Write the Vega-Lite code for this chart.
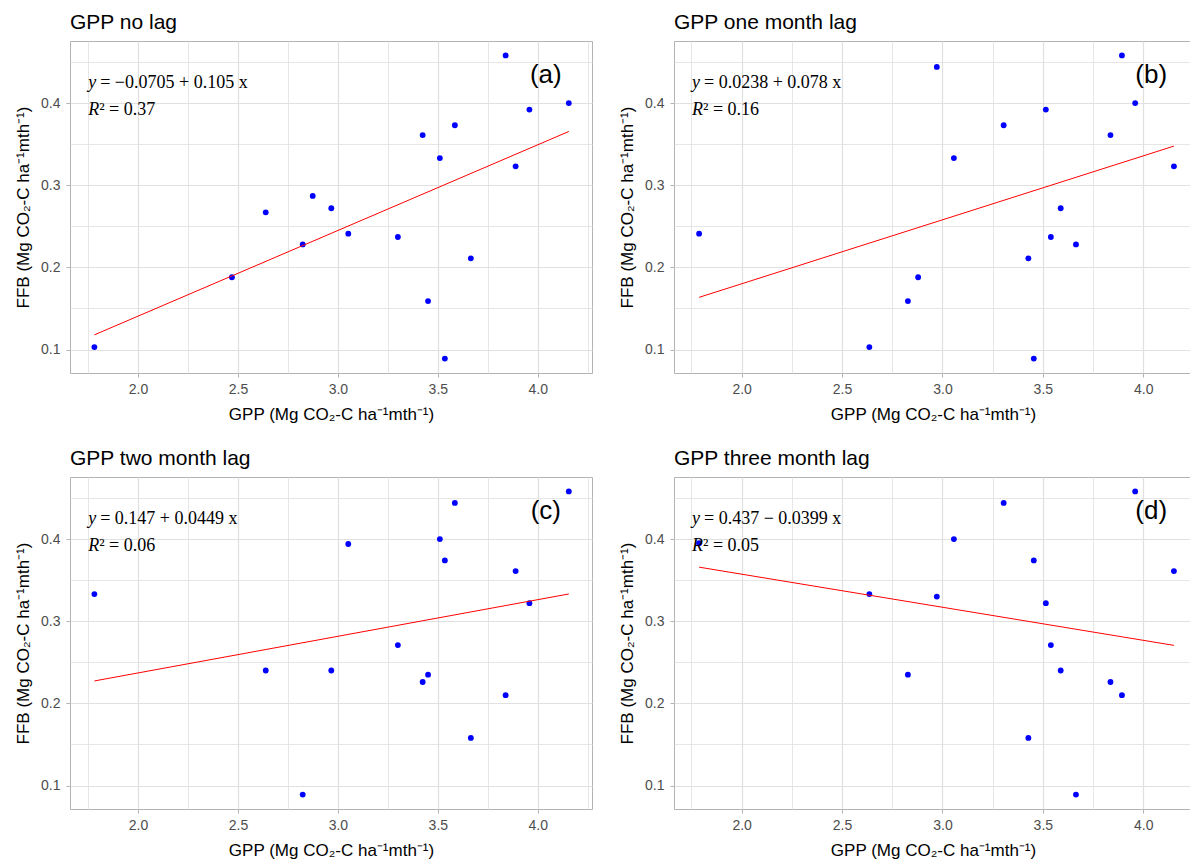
{
  "$schema": "https://vega.github.io/schema/vega-lite/v6.json",
  "background": "#ffffff",
  "padding": {"left": 14, "top": 11, "right": 0, "bottom": 0},
  "datasets": {
    "a": [
      {"gpp": 1.782, "ffb": 0.103}, {"gpp": 2.470, "ffb": 0.188}, {"gpp": 2.639, "ffb": 0.267},
      {"gpp": 2.824, "ffb": 0.228}, {"gpp": 2.874, "ffb": 0.287}, {"gpp": 2.967, "ffb": 0.272},
      {"gpp": 3.052, "ffb": 0.241}, {"gpp": 3.300, "ffb": 0.237}, {"gpp": 3.424, "ffb": 0.361},
      {"gpp": 3.451, "ffb": 0.159}, {"gpp": 3.510, "ffb": 0.333}, {"gpp": 3.535, "ffb": 0.089},
      {"gpp": 3.585, "ffb": 0.373}, {"gpp": 3.665, "ffb": 0.211}, {"gpp": 3.839, "ffb": 0.458},
      {"gpp": 3.889, "ffb": 0.323}, {"gpp": 3.958, "ffb": 0.392}, {"gpp": 4.155, "ffb": 0.400}
    ],
    "b": [
      {"gpp": 1.788, "ffb": 0.241}, {"gpp": 2.636, "ffb": 0.103}, {"gpp": 2.828, "ffb": 0.159},
      {"gpp": 2.879, "ffb": 0.188}, {"gpp": 2.972, "ffb": 0.444}, {"gpp": 3.057, "ffb": 0.333},
      {"gpp": 3.305, "ffb": 0.373}, {"gpp": 3.428, "ffb": 0.211}, {"gpp": 3.455, "ffb": 0.089},
      {"gpp": 3.515, "ffb": 0.392}, {"gpp": 3.540, "ffb": 0.237}, {"gpp": 3.589, "ffb": 0.272},
      {"gpp": 3.665, "ffb": 0.228}, {"gpp": 3.837, "ffb": 0.361}, {"gpp": 3.894, "ffb": 0.458},
      {"gpp": 3.960, "ffb": 0.400}, {"gpp": 4.153, "ffb": 0.323}
    ],
    "c": [
      {"gpp": 1.782, "ffb": 0.333}, {"gpp": 2.639, "ffb": 0.240}, {"gpp": 2.824, "ffb": 0.089},
      {"gpp": 2.967, "ffb": 0.240}, {"gpp": 3.052, "ffb": 0.394}, {"gpp": 3.300, "ffb": 0.271},
      {"gpp": 3.424, "ffb": 0.226}, {"gpp": 3.451, "ffb": 0.235}, {"gpp": 3.510, "ffb": 0.400},
      {"gpp": 3.535, "ffb": 0.374}, {"gpp": 3.585, "ffb": 0.444}, {"gpp": 3.665, "ffb": 0.158},
      {"gpp": 3.839, "ffb": 0.210}, {"gpp": 3.889, "ffb": 0.361}, {"gpp": 3.958, "ffb": 0.322},
      {"gpp": 4.155, "ffb": 0.458}
    ],
    "d": [
      {"gpp": 1.788, "ffb": 0.395}, {"gpp": 2.636, "ffb": 0.333}, {"gpp": 2.828, "ffb": 0.235},
      {"gpp": 2.972, "ffb": 0.330}, {"gpp": 3.057, "ffb": 0.400}, {"gpp": 3.305, "ffb": 0.444},
      {"gpp": 3.428, "ffb": 0.158}, {"gpp": 3.455, "ffb": 0.374}, {"gpp": 3.515, "ffb": 0.322},
      {"gpp": 3.540, "ffb": 0.271}, {"gpp": 3.589, "ffb": 0.240}, {"gpp": 3.665, "ffb": 0.089},
      {"gpp": 3.837, "ffb": 0.226}, {"gpp": 3.894, "ffb": 0.210}, {"gpp": 3.960, "ffb": 0.458},
      {"gpp": 4.153, "ffb": 0.361}
    ]
  },
  "vconcat": [
    {
      "spacing": 25,
      "hconcat": [
        {
          "width": 522, "height": 332,
          "title": "GPP no lag",
          "layer": [
            {
              "data": {"name": "a"},
              "mark": {"type": "point", "filled": true, "color": "#0000ff", "size": 34, "opacity": 1},
              "encoding": {
                "x": {"field": "gpp", "type": "quantitative", "scale": {"domain": [1.66, 4.271], "nice": false, "zero": false},
                  "axis": {"title": "GPP (Mg CO₂-C ha⁻¹mth⁻¹)", "values": [1.75, 2, 2.25, 2.5, 2.75, 3, 3.25, 3.5, 3.75, 4, 4.25],
                    "labelExpr": "abs(datum.value*2 - round(datum.value*2)) < 0.01 ? format(datum.value, '.1f') : ''",
                    "gridWidth": {"condition": {"test": "abs(datum.value*2 - round(datum.value*2)) < 0.01", "value": 1.2}, "value": 0.8},
                    "tickOpacity": {"condition": {"test": "abs(datum.value*2 - round(datum.value*2)) < 0.01", "value": 1}, "value": 0}}},
                "y": {"field": "ffb", "type": "quantitative", "scale": {"domain": [0.0715, 0.4755], "nice": false, "zero": false},
                  "axis": {"title": "FFB (Mg CO₂-C ha⁻¹mth⁻¹)", "values": [0.1, 0.15, 0.2, 0.25, 0.3, 0.35, 0.4, 0.45],
                    "labelExpr": "abs(datum.value*10 - round(datum.value*10)) < 0.01 ? format(datum.value, '.1f') : ''",
                    "gridWidth": {"condition": {"test": "abs(datum.value*10 - round(datum.value*10)) < 0.01", "value": 1.2}, "value": 0.8},
                    "tickOpacity": {"condition": {"test": "abs(datum.value*10 - round(datum.value*10)) < 0.01", "value": 1}, "value": 0}}}
              }
            },
            {
              "data": {"name": "a"},
              "transform": [{"regression": "ffb", "on": "gpp"}],
              "mark": {"type": "line", "color": "#ff0000", "strokeWidth": 1},
              "encoding": {"x": {"field": "gpp", "type": "quantitative"}, "y": {"field": "ffb", "type": "quantitative"}}
            },
            {
              "data": {"values": [{}]},
              "mark": {"type": "text", "align": "left", "baseline": "alphabetic", "font": "Liberation Serif", "fontStyle": "italic", "fontSize": 18, "lineHeight": 27, "color": "#000000"},
              "encoding": {"x": {"datum": 1.751, "type": "quantitative"}, "y": {"datum": 0.4185, "type": "quantitative"}, "text": {"value": ["y", "R"]}}
            },
            {
              "data": {"values": [{}]},
              "mark": {"type": "text", "align": "left", "baseline": "alphabetic", "font": "Liberation Serif", "fontSize": 18, "dx": 12, "color": "#000000"},
              "encoding": {"x": {"datum": 1.751, "type": "quantitative"}, "y": {"datum": 0.4185, "type": "quantitative"}, "text": {"value": "= −0.0705 + 0.105 x"}}
            },
            {
              "data": {"values": [{}]},
              "mark": {"type": "text", "align": "left", "baseline": "alphabetic", "font": "Liberation Serif", "fontSize": 18, "dx": 11, "dy": 27, "color": "#000000"},
              "encoding": {"x": {"datum": 1.751, "type": "quantitative"}, "y": {"datum": 0.4185, "type": "quantitative"}, "text": {"value": "² = 0.37"}}
            },
            {
              "data": {"values": [{}]},
              "mark": {"type": "text", "align": "center", "baseline": "middle", "fontSize": 26, "color": "#000000"},
              "encoding": {"x": {"datum": 4.04, "type": "quantitative"}, "y": {"datum": 0.434, "type": "quantitative"}, "text": {"value": "(a)"}}
            }
          ]
        },
        {
          "width": 518, "height": 332,
          "title": "GPP one month lag",
          "layer": [
            {
              "data": {"name": "b"},
              "mark": {"type": "point", "filled": true, "color": "#0000ff", "size": 34, "opacity": 1},
              "encoding": {
                "x": {"field": "gpp", "type": "quantitative", "scale": {"domain": [1.663, 4.243], "nice": false, "zero": false},
                  "axis": {"title": "GPP (Mg CO₂-C ha⁻¹mth⁻¹)", "values": [1.75, 2, 2.25, 2.5, 2.75, 3, 3.25, 3.5, 3.75, 4],
                    "labelExpr": "abs(datum.value*2 - round(datum.value*2)) < 0.01 ? format(datum.value, '.1f') : ''",
                    "gridWidth": {"condition": {"test": "abs(datum.value*2 - round(datum.value*2)) < 0.01", "value": 1.2}, "value": 0.8},
                    "tickOpacity": {"condition": {"test": "abs(datum.value*2 - round(datum.value*2)) < 0.01", "value": 1}, "value": 0}}},
                "y": {"field": "ffb", "type": "quantitative", "scale": {"domain": [0.0715, 0.4755], "nice": false, "zero": false},
                  "axis": {"title": "FFB (Mg CO₂-C ha⁻¹mth⁻¹)", "values": [0.1, 0.15, 0.2, 0.25, 0.3, 0.35, 0.4, 0.45],
                    "labelExpr": "abs(datum.value*10 - round(datum.value*10)) < 0.01 ? format(datum.value, '.1f') : ''",
                    "gridWidth": {"condition": {"test": "abs(datum.value*10 - round(datum.value*10)) < 0.01", "value": 1.2}, "value": 0.8},
                    "tickOpacity": {"condition": {"test": "abs(datum.value*10 - round(datum.value*10)) < 0.01", "value": 1}, "value": 0}}}
              }
            },
            {
              "data": {"name": "b"},
              "transform": [{"regression": "ffb", "on": "gpp"}],
              "mark": {"type": "line", "color": "#ff0000", "strokeWidth": 1},
              "encoding": {"x": {"field": "gpp", "type": "quantitative"}, "y": {"field": "ffb", "type": "quantitative"}}
            },
            {
              "data": {"values": [{}]},
              "mark": {"type": "text", "align": "left", "baseline": "alphabetic", "font": "Liberation Serif", "fontStyle": "italic", "fontSize": 18, "lineHeight": 27, "color": "#000000"},
              "encoding": {"x": {"datum": 1.753, "type": "quantitative"}, "y": {"datum": 0.4185, "type": "quantitative"}, "text": {"value": ["y", "R"]}}
            },
            {
              "data": {"values": [{}]},
              "mark": {"type": "text", "align": "left", "baseline": "alphabetic", "font": "Liberation Serif", "fontSize": 18, "dx": 12, "color": "#000000"},
              "encoding": {"x": {"datum": 1.753, "type": "quantitative"}, "y": {"datum": 0.4185, "type": "quantitative"}, "text": {"value": "= 0.0238 + 0.078 x"}}
            },
            {
              "data": {"values": [{}]},
              "mark": {"type": "text", "align": "left", "baseline": "alphabetic", "font": "Liberation Serif", "fontSize": 18, "dx": 11, "dy": 27, "color": "#000000"},
              "encoding": {"x": {"datum": 1.753, "type": "quantitative"}, "y": {"datum": 0.4185, "type": "quantitative"}, "text": {"value": "² = 0.16"}}
            },
            {
              "data": {"values": [{}]},
              "mark": {"type": "text", "align": "center", "baseline": "middle", "fontSize": 26, "color": "#000000"},
              "encoding": {"x": {"datum": 4.04, "type": "quantitative"}, "y": {"datum": 0.434, "type": "quantitative"}, "text": {"value": "(b)"}}
            }
          ]
        }
      ]
    },
    {
      "spacing": 25,
      "hconcat": [
        {
          "width": 522, "height": 332,
          "title": "GPP two month lag",
          "layer": [
            {
              "data": {"name": "c"},
              "mark": {"type": "point", "filled": true, "color": "#0000ff", "size": 34, "opacity": 1},
              "encoding": {
                "x": {"field": "gpp", "type": "quantitative", "scale": {"domain": [1.66, 4.271], "nice": false, "zero": false},
                  "axis": {"title": "GPP (Mg CO₂-C ha⁻¹mth⁻¹)", "values": [1.75, 2, 2.25, 2.5, 2.75, 3, 3.25, 3.5, 3.75, 4, 4.25],
                    "labelExpr": "abs(datum.value*2 - round(datum.value*2)) < 0.01 ? format(datum.value, '.1f') : ''",
                    "gridWidth": {"condition": {"test": "abs(datum.value*2 - round(datum.value*2)) < 0.01", "value": 1.2}, "value": 0.8},
                    "tickOpacity": {"condition": {"test": "abs(datum.value*2 - round(datum.value*2)) < 0.01", "value": 1}, "value": 0}}},
                "y": {"field": "ffb", "type": "quantitative", "scale": {"domain": [0.0715, 0.4755], "nice": false, "zero": false},
                  "axis": {"title": "FFB (Mg CO₂-C ha⁻¹mth⁻¹)", "values": [0.1, 0.15, 0.2, 0.25, 0.3, 0.35, 0.4, 0.45],
                    "labelExpr": "abs(datum.value*10 - round(datum.value*10)) < 0.01 ? format(datum.value, '.1f') : ''",
                    "gridWidth": {"condition": {"test": "abs(datum.value*10 - round(datum.value*10)) < 0.01", "value": 1.2}, "value": 0.8},
                    "tickOpacity": {"condition": {"test": "abs(datum.value*10 - round(datum.value*10)) < 0.01", "value": 1}, "value": 0}}}
              }
            },
            {
              "data": {"name": "c"},
              "transform": [{"regression": "ffb", "on": "gpp"}],
              "mark": {"type": "line", "color": "#ff0000", "strokeWidth": 1},
              "encoding": {"x": {"field": "gpp", "type": "quantitative"}, "y": {"field": "ffb", "type": "quantitative"}}
            },
            {
              "data": {"values": [{}]},
              "mark": {"type": "text", "align": "left", "baseline": "alphabetic", "font": "Liberation Serif", "fontStyle": "italic", "fontSize": 18, "lineHeight": 27, "color": "#000000"},
              "encoding": {"x": {"datum": 1.751, "type": "quantitative"}, "y": {"datum": 0.4185, "type": "quantitative"}, "text": {"value": ["y", "R"]}}
            },
            {
              "data": {"values": [{}]},
              "mark": {"type": "text", "align": "left", "baseline": "alphabetic", "font": "Liberation Serif", "fontSize": 18, "dx": 12, "color": "#000000"},
              "encoding": {"x": {"datum": 1.751, "type": "quantitative"}, "y": {"datum": 0.4185, "type": "quantitative"}, "text": {"value": "= 0.147 + 0.0449 x"}}
            },
            {
              "data": {"values": [{}]},
              "mark": {"type": "text", "align": "left", "baseline": "alphabetic", "font": "Liberation Serif", "fontSize": 18, "dx": 11, "dy": 27, "color": "#000000"},
              "encoding": {"x": {"datum": 1.751, "type": "quantitative"}, "y": {"datum": 0.4185, "type": "quantitative"}, "text": {"value": "² = 0.06"}}
            },
            {
              "data": {"values": [{}]},
              "mark": {"type": "text", "align": "center", "baseline": "middle", "fontSize": 26, "color": "#000000"},
              "encoding": {"x": {"datum": 4.04, "type": "quantitative"}, "y": {"datum": 0.434, "type": "quantitative"}, "text": {"value": "(c)"}}
            }
          ]
        },
        {
          "width": 518, "height": 332,
          "title": "GPP three month lag",
          "layer": [
            {
              "data": {"name": "d"},
              "mark": {"type": "point", "filled": true, "color": "#0000ff", "size": 34, "opacity": 1},
              "encoding": {
                "x": {"field": "gpp", "type": "quantitative", "scale": {"domain": [1.663, 4.243], "nice": false, "zero": false},
                  "axis": {"title": "GPP (Mg CO₂-C ha⁻¹mth⁻¹)", "values": [1.75, 2, 2.25, 2.5, 2.75, 3, 3.25, 3.5, 3.75, 4],
                    "labelExpr": "abs(datum.value*2 - round(datum.value*2)) < 0.01 ? format(datum.value, '.1f') : ''",
                    "gridWidth": {"condition": {"test": "abs(datum.value*2 - round(datum.value*2)) < 0.01", "value": 1.2}, "value": 0.8},
                    "tickOpacity": {"condition": {"test": "abs(datum.value*2 - round(datum.value*2)) < 0.01", "value": 1}, "value": 0}}},
                "y": {"field": "ffb", "type": "quantitative", "scale": {"domain": [0.0715, 0.4755], "nice": false, "zero": false},
                  "axis": {"title": "FFB (Mg CO₂-C ha⁻¹mth⁻¹)", "values": [0.1, 0.15, 0.2, 0.25, 0.3, 0.35, 0.4, 0.45],
                    "labelExpr": "abs(datum.value*10 - round(datum.value*10)) < 0.01 ? format(datum.value, '.1f') : ''",
                    "gridWidth": {"condition": {"test": "abs(datum.value*10 - round(datum.value*10)) < 0.01", "value": 1.2}, "value": 0.8},
                    "tickOpacity": {"condition": {"test": "abs(datum.value*10 - round(datum.value*10)) < 0.01", "value": 1}, "value": 0}}}
              }
            },
            {
              "data": {"name": "d"},
              "transform": [{"regression": "ffb", "on": "gpp"}],
              "mark": {"type": "line", "color": "#ff0000", "strokeWidth": 1},
              "encoding": {"x": {"field": "gpp", "type": "quantitative"}, "y": {"field": "ffb", "type": "quantitative"}}
            },
            {
              "data": {"values": [{}]},
              "mark": {"type": "text", "align": "left", "baseline": "alphabetic", "font": "Liberation Serif", "fontStyle": "italic", "fontSize": 18, "lineHeight": 27, "color": "#000000"},
              "encoding": {"x": {"datum": 1.753, "type": "quantitative"}, "y": {"datum": 0.4185, "type": "quantitative"}, "text": {"value": ["y", "R"]}}
            },
            {
              "data": {"values": [{}]},
              "mark": {"type": "text", "align": "left", "baseline": "alphabetic", "font": "Liberation Serif", "fontSize": 18, "dx": 12, "color": "#000000"},
              "encoding": {"x": {"datum": 1.753, "type": "quantitative"}, "y": {"datum": 0.4185, "type": "quantitative"}, "text": {"value": "= 0.437 − 0.0399 x"}}
            },
            {
              "data": {"values": [{}]},
              "mark": {"type": "text", "align": "left", "baseline": "alphabetic", "font": "Liberation Serif", "fontSize": 18, "dx": 11, "dy": 27, "color": "#000000"},
              "encoding": {"x": {"datum": 1.753, "type": "quantitative"}, "y": {"datum": 0.4185, "type": "quantitative"}, "text": {"value": "² = 0.05"}}
            },
            {
              "data": {"values": [{}]},
              "mark": {"type": "text", "align": "center", "baseline": "middle", "fontSize": 26, "color": "#000000"},
              "encoding": {"x": {"datum": 4.04, "type": "quantitative"}, "y": {"datum": 0.434, "type": "quantitative"}, "text": {"value": "(d)"}}
            }
          ]
        }
      ]
    }
  ],
  "spacing": 24,
  "config": {
    "font": "Liberation Sans",
    "view": {"stroke": "#b3b3b3", "strokeWidth": 1},
    "title": {"anchor": "start", "frame": "group", "fontSize": 21, "fontWeight": "normal", "color": "#000000", "font": "Liberation Sans", "offset": 8},
    "axis": {"domain": false, "tickColor": "#b3b3b3", "tickSize": 4, "labelColor": "#4d4d4d", "labelFontSize": 14, "titleFontSize": 17, "titleFontWeight": "normal", "titleColor": "#000000", "gridColor": "#e0e0e0", "labelFont": "Liberation Sans", "titleFont": "Liberation Sans"},
    "axisY": {"titlePadding": 8, "labelPadding": 6},
    "axisX": {"titlePadding": 10, "labelPadding": 5}
  }
}
